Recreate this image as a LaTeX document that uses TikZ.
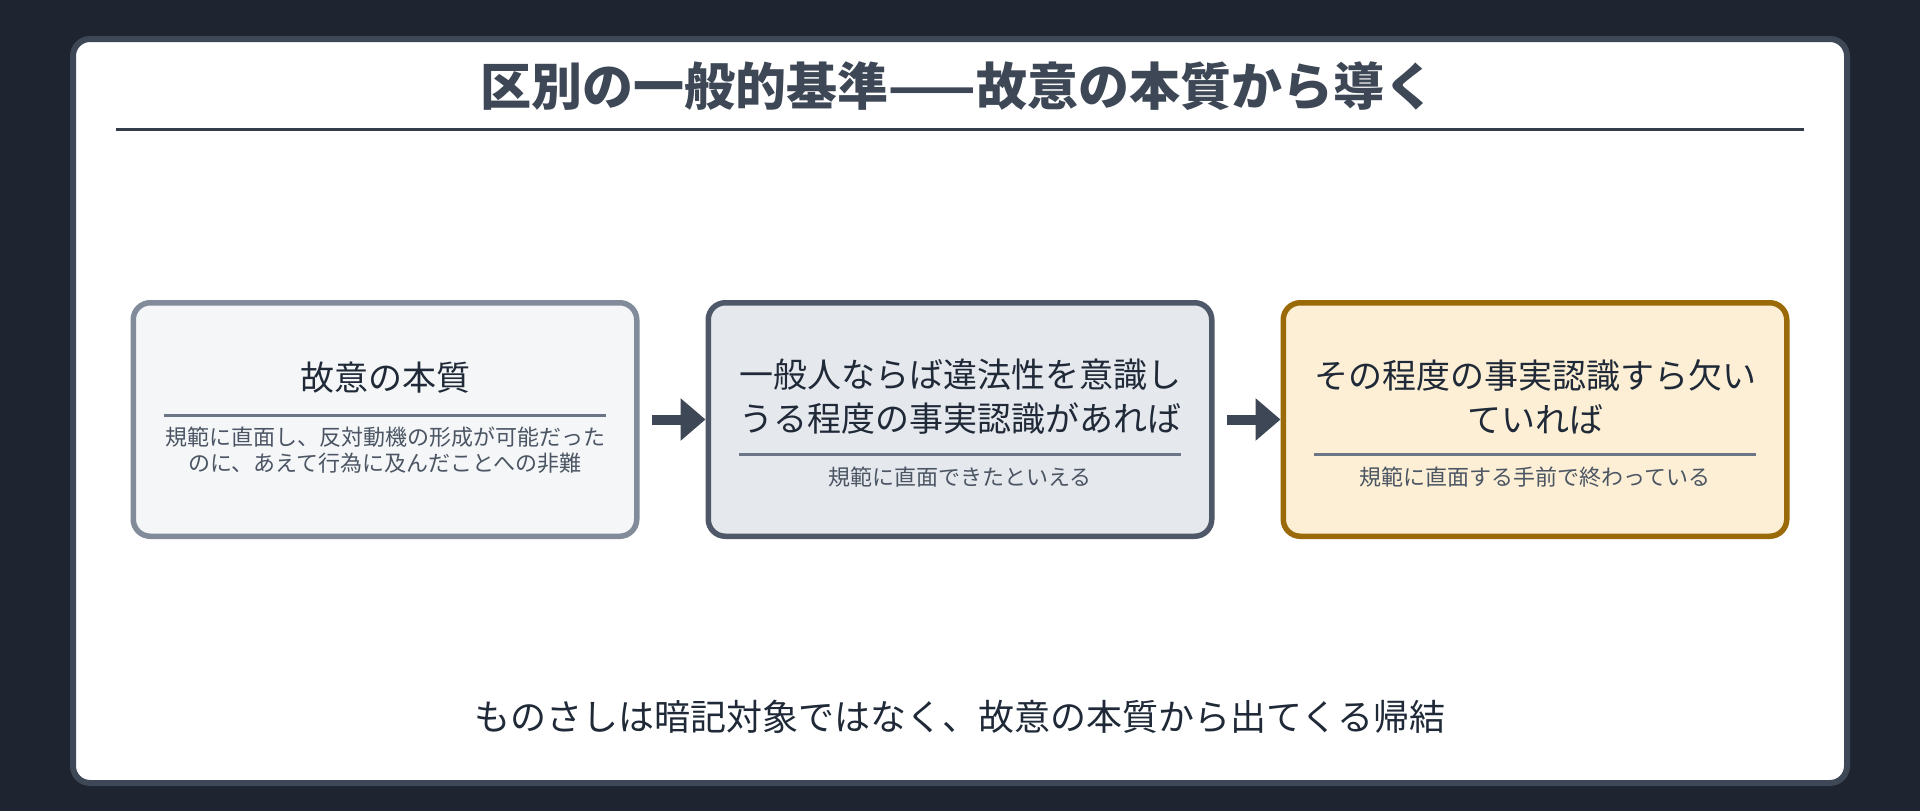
\documentclass[tikz,border=0pt]{standalone}
\usepackage{fontspec}
\setmainfont{Noto Sans CJK JP}
\usetikzlibrary{arrows.meta}
\definecolor{bgc}{HTML}{1E2530}
\definecolor{panelc}{HTML}{3D4756}
\definecolor{titlec}{HTML}{3D4756}
\definecolor{hrule}{HTML}{333C4A}
\definecolor{maintxt}{HTML}{1F2937}
\definecolor{subtxt}{HTML}{4B5563}
\definecolor{innerrule}{HTML}{6B7585}
\definecolor{aFill}{HTML}{F4F6F8}
\definecolor{aDraw}{HTML}{818B99}
\definecolor{bFill}{HTML}{E5E8ED}
\definecolor{bDraw}{HTML}{4F5868}
\definecolor{cFill}{HTML}{FCEFD5}
\definecolor{cDraw}{HTML}{9A6A08}
\definecolor{arrowc}{HTML}{3D4756}
\tikzset{
  boxbase/.style={draw, line width=5.5pt, rounded corners=17pt, minimum width=503.5pt, minimum height=233.5pt, inner sep=0pt},
  boxA/.style={boxbase, fill=aFill, draw=aDraw},
  boxB/.style={boxbase, fill=bFill, draw=bDraw},
  boxC/.style={boxbase, fill=cFill, draw=cDraw},
  maintext/.style={inner sep=0pt, align=center, text=maintxt, font=\fontsize{34}{44}\selectfont},
  subtext/.style={inner sep=0pt, align=center, text=subtxt, font=\fontsize{22}{26}\selectfont},
  innerline/.style={draw=innerrule, line width=3pt},
  flowarrow/.style={draw=arrowc, line width=10pt, -{Triangle[length=25pt,width=41pt]}},
}
\begin{document}
\begin{tikzpicture}[x=1pt,y=-1pt]
\useasboundingbox (0,0) rectangle (1920,811);
\fill[bgc] (0,0) rectangle (1920,811);
\draw[panelc, line width=6pt, fill=white, rounded corners=17pt] (73,39) rectangle (1847,783);
% title
\node[inner sep=0pt, text=titlec, font=\fontsize{51}{60}\bfseries\selectfont] (title) at (958,86) {区別の一般的基準——故意の本質から導く};
\coordinate (tl) at (116,129);
\coordinate (tr) at (1804,129);
\draw[hrule, line width=3pt] (tl) -- (tr);
% boxes
\node[boxA] (b1) at (385,419.5) {};
\node[boxB] (b2) at (960,419.5) {};
\node[boxC] (b3) at (1535,419.5) {};
% box 1 content
\node[maintext] (t1) at (385,378) {故意の本質};
\coordinate (r1l) at (164,415);
\coordinate (r1r) at (606,415);
\draw[innerline] (r1l) -- (r1r);
\node[subtext] (s1) at (385,450) {規範に直面し、反対動機の形成が可能だった\\のに、あえて行為に及んだことへの非難};
% box 2 content
\node[maintext] (t2) at (960,397) {一般人ならば違法性を意識し\\うる程度の事実認識があれば};
\coordinate (r2l) at (739,454);
\coordinate (r2r) at (1181,454);
\draw[innerline] (r2l) -- (r2r);
\node[subtext] (s2) at (960,477) {規範に直面できたといえる};
% box 3 content
\node[maintext] (t3) at (1535,397) {その程度の事実認識すら欠い\\ていれば};
\coordinate (r3l) at (1314,454);
\coordinate (r3r) at (1756,454);
\draw[innerline] (r3l) -- (r3r);
\node[subtext] (s3) at (1535,477) {規範に直面する手前で終わっている};
% arrows
\draw[flowarrow] ([xshift=12pt]b1.east) -- (b2.west);
\draw[flowarrow] ([xshift=12pt]b2.east) -- (b3.west);
% bottom note
\node[inner sep=0pt, text=maintxt, font=\fontsize{36}{42}\selectfont] (note) at (960,717) {ものさしは暗記対象ではなく、故意の本質から出てくる帰結};
\end{tikzpicture}
\end{document}
